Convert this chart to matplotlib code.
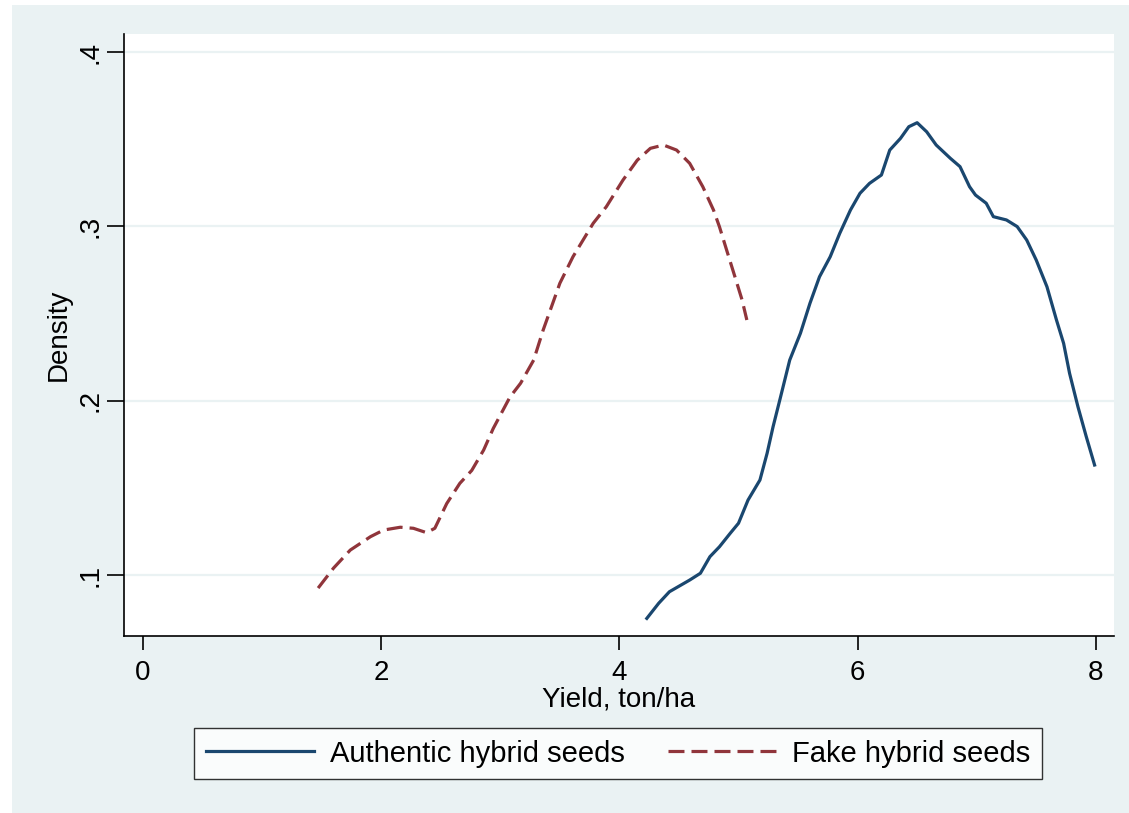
import matplotlib.pyplot as plt
from matplotlib.patches import Rectangle

# =============================================================================
# DATA - kernel density curves (yield, density)
# =============================================================================
fake_x = [1.47, 1.60, 1.74, 1.91, 2.02, 2.16, 2.27, 2.38, 2.45, 2.55, 2.66,
          2.76, 2.86, 2.94, 3.08, 3.17, 3.28, 3.36, 3.45, 3.50, 3.61, 3.78,
          3.89, 4.03, 4.15, 4.26, 4.37, 4.48, 4.59, 4.70, 4.79, 4.84, 4.90,
          4.97, 5.03, 5.07]
fake_y = [0.0925, 0.104, 0.1143, 0.122, 0.1258, 0.1274, 0.1268, 0.1243,
          0.1268, 0.141, 0.1526, 0.160, 0.1717, 0.184, 0.202, 0.210, 0.2233,
          0.2406, 0.2578, 0.2674, 0.2826, 0.3018, 0.3113, 0.3266, 0.338,
          0.3448, 0.3467, 0.3438, 0.3362, 0.3228, 0.3094, 0.2998, 0.2865,
          0.2711, 0.2578, 0.2463]

auth_x = [4.23, 4.33, 4.42, 4.59, 4.68, 4.76, 4.84, 4.93, 5.00, 5.08, 5.18,
          5.24, 5.29, 5.35, 5.43, 5.52, 5.60, 5.68, 5.77, 5.85, 5.94, 6.02,
          6.10, 6.20, 6.27, 6.36, 6.43, 6.50, 6.58, 6.66, 6.78, 6.86, 6.94,
          6.99, 7.08, 7.14, 7.25, 7.34, 7.42, 7.50, 7.59, 7.67, 7.73, 7.78,
          7.85, 7.92, 7.99]
auth_y = [0.0751, 0.0838, 0.0904, 0.0971, 0.101, 0.1105, 0.1162, 0.1239,
          0.1297, 0.143, 0.1545, 0.1698, 0.185, 0.2013, 0.2233, 0.2387,
          0.2559, 0.2711, 0.2826, 0.296, 0.3094, 0.319, 0.3247, 0.3295,
          0.3438, 0.3505, 0.3572, 0.3595, 0.3543, 0.3467, 0.339, 0.3343,
          0.3228, 0.318, 0.3133, 0.3056, 0.3037, 0.2999, 0.2922, 0.2807,
          0.2654, 0.2463, 0.2329, 0.2157, 0.1966, 0.1794, 0.1631]

x_ticks = [0, 2, 4, 6, 8]
y_ticks = [0.1, 0.2, 0.3, 0.4]
y_tick_labels = ['.1', '.2', '.3', '.4']

# =============================================================================
# PLOTTING (Stata s2color look)
# =============================================================================
plt.rcParams['font.family'] = ['Liberation Sans', 'DejaVu Sans']
bg = '#EAF2F3'
navy = '#1A476F'
maroon = '#90353B'

fig = plt.figure(figsize=(11.29, 8.13), dpi=100, facecolor='white')
fig.patches.append(Rectangle((12 / 1129, 0), 1, 1 - 5 / 813,
                             transform=fig.transFigure, facecolor=bg,
                             edgecolor='none', zorder=-10))

ax = fig.add_axes([124 / 1129, 1 - 636 / 813, 990 / 1129, 602 / 813])
ax.set_facecolor('white')

ax.plot(auth_x, auth_y, color=navy, lw=2.3, label='Authentic hybrid seeds')
ax.plot(fake_x, fake_y, color=maroon, lw=2.3, dashes=(5, 2.2),
        label='Fake hybrid seeds')

ax.set_xlim(-0.16, 8.153)
ax.set_ylim(0.065, 0.4104)
ax.set_xticks(x_ticks)
ax.set_yticks(y_ticks)
ax.set_yticklabels(y_tick_labels, rotation=90, va='center')
ax.tick_params(axis='both', labelsize=20, length=10, width=1.2, pad=7,
               direction='out', color='black')
ax.tick_params(axis='y', length=12, pad=3)

for side in ['top', 'right']:
    ax.spines[side].set_visible(False)
for side in ['left', 'bottom']:
    ax.spines[side].set_linewidth(1.2)

ax.grid(axis='y', color=bg, lw=1.6)
ax.set_axisbelow(True)

ax.set_xlabel('Yield, ton/ha', fontsize=20, labelpad=1)
ax.set_ylabel('Density', fontsize=20, labelpad=4)

leg = fig.legend(loc='center', bbox_to_anchor=(618 / 1129, 1 - 753.5 / 813),
                 ncol=2, fontsize=21, frameon=True, fancybox=False,
                 handlelength=3.7, handletextpad=0.55, columnspacing=1.5,
                 borderpad=0.4)
leg.get_frame().set_edgecolor('black')
leg.get_frame().set_linewidth(1.0)
leg.get_frame().set_facecolor('white')

plt.savefig('out.png', dpi=100, facecolor=fig.get_facecolor())
